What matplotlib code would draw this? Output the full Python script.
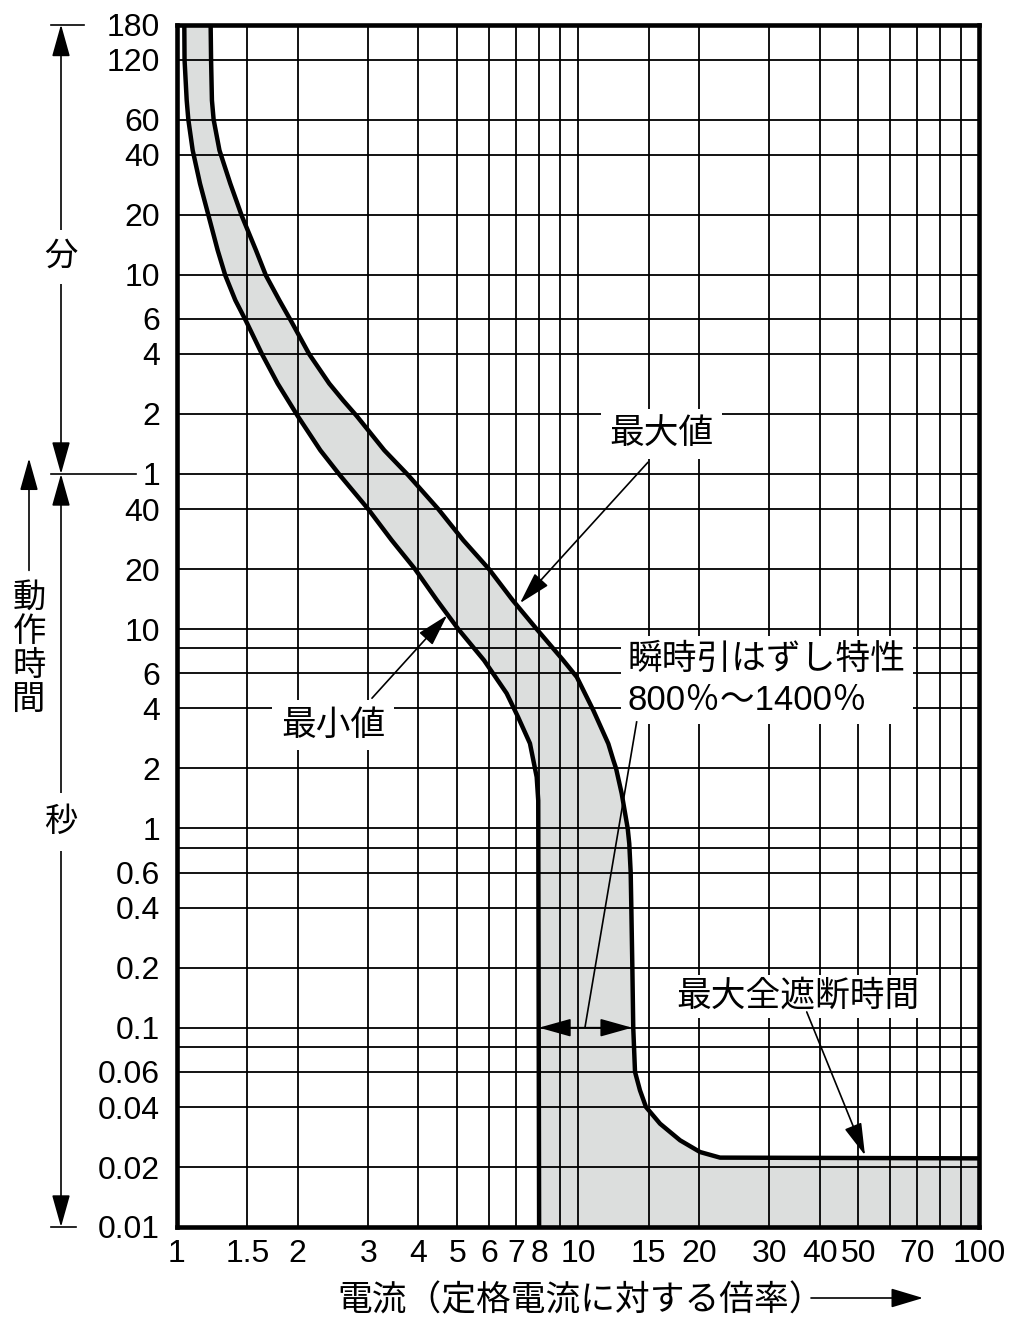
import matplotlib
matplotlib.use('Agg')
import matplotlib.pyplot as plt
import matplotlib.transforms as mtransforms
from matplotlib.lines import Line2D
from matplotlib.patches import FancyArrowPatch
from matplotlib.ticker import NullFormatter

plt.rcParams['font.family'] = ['Liberation Sans', 'Noto Sans CJK JP', 'DejaVu Sans']

# trip curves: current multiple / trip time in seconds
min_i = [1.0446, 1.046, 1.059, 1.069, 1.096, 1.143, 1.2015, 1.265, 1.322, 1.400,
         1.488, 1.632, 1.785, 2.002, 2.28, 2.552, 3.0, 3.434, 3.925, 4.452,
         5.03, 5.833, 6.64, 7.09, 7.59, 7.89, 7.96, 8.0]
min_t = [10800, 7200, 4501, 3600, 2526, 1719, 1178, 795.5, 593.8, 446.4,
         351.6, 239.2, 170.5, 117.3, 78.9, 59.1, 40, 27.9, 20, 13.95,
         10, 6.97, 4.76, 3.62, 2.67, 1.81, 1.38, 0.01]
max_i = [1.215, 1.218, 1.224, 1.236, 1.278, 1.360, 1.454, 1.576, 1.669,
         1.802, 1.927, 2.140, 2.400, 2.597, 2.809, 3.291, 3.777, 4.486, 5.178,
         6.0, 6.876, 7.889, 9.19, 9.93, 10.92, 11.90, 12.25, 12.44, 12.85,
         13.30, 13.42, 13.53, 13.58, 13.66, 13.73, 13.87, 14.27, 14.77, 16.01,
         17.96, 20.14, 22.59, 100]
max_t = [10800, 7200, 4501, 3600, 2526, 1719, 1178, 795.5, 593.8,
         446.4, 351.6, 239.2, 170.5, 140.6, 117.3, 78.9, 59.1, 40, 27.9,
         20, 13.95, 10, 6.97, 5.75, 3.91, 2.66, 2.197, 2.0, 1.495,
         1.0, 0.839, 0.6, 0.4, 0.2, 0.1, 0.06, 0.0485, 0.04, 0.033,
         0.02723, 0.02378, 0.02229, 0.0221]

x_ticks = [1, 1.5, 2, 3, 4, 5, 6, 7, 8, 10, 15, 20, 30, 40, 50, 70, 100]
x_labels = ['1', '1.5', '2', '3', '4', '5', '6', '7', '8', '10', '15', '20',
            '30', '40', '50', '70', '100']
x_minor = [9, 60, 80, 90]
y_ticks = [0.01, 0.02, 0.04, 0.06, 0.1, 0.2, 0.4, 0.6, 1, 2, 4, 6, 10, 20, 40,
           60, 120, 240, 360, 600, 1200, 2400, 3600, 7200, 10800]
y_labels = ['0.01', '0.02', '0.04', '0.06', '0.1', '0.2', '0.4', '0.6', '1',
            '2', '4', '6', '10', '20', '40',
            '1', '2', '4', '6', '10', '20', '40', '60', '120', '180']
y_minor = [0.08, 0.8, 8]

W, H = 1024, 1344
fig = plt.figure(figsize=(W / 100, H / 100), dpi=100)
ax = fig.add_axes([176.7 / W, 117 / H, 802.6 / W, 1202.5 / H])
ax.set_xscale('log')
ax.set_yscale('log')

# shaded band between min and max curves
fill_x = min_i + [100] + max_i[::-1]
fill_y = min_t + [0.01] + max_t[::-1]
ax.fill(fill_x, fill_y, color='#dcdedd', lw=0, zorder=1)

ax.plot(min_i, min_t, color='black', lw=3.2, zorder=3, solid_joinstyle='round')
ax.plot(max_i, max_t, color='black', lw=3.2, zorder=3, solid_joinstyle='round')

ax.set_xlim(1, 100)
ax.set_ylim(0.01, 10800)
ax.set_xticks(x_ticks, x_labels)
ax.set_xticks(x_minor, minor=True)
ax.set_yticks(y_ticks, y_labels)
ax.set_yticks(y_minor, minor=True)
ax.xaxis.set_minor_formatter(NullFormatter())
ax.yaxis.set_minor_formatter(NullFormatter())
ax.tick_params(which='both', length=0, labelsize=23)
ax.tick_params(axis='x', pad=9)
ax.tick_params(axis='y', pad=12)
ax.grid(which='both', color='black', lw=1.3, zorder=2)
ax.set_axisbelow(False)
for sp in ax.spines.values():
    sp.set_linewidth(3.3)
    sp.set_zorder(5)

jp = 25
box = dict(boxstyle='square,pad=0.25', fc='white', ec='none')
arrow = dict(arrowstyle='-|>,head_length=1.0,head_width=0.28', color='black',
             lw=1.2, shrinkA=0, shrinkB=0, mutation_scale=20)

ax.text(16.15, 94.9, '最大値', fontsize=jp, ha='center', va='center', bbox=box, zorder=6)
ax.annotate('', xy=(7.17, 13.5), xytext=(14.94, 68.7), arrowprops=arrow, zorder=6)

ax.text(2.452, 3.29, '最小値', fontsize=jp, ha='center', va='center', bbox=box, zorder=6)
ax.annotate('', xy=(4.72, 11.73), xytext=(3.066, 4.50), arrowprops=arrow, zorder=6)

ax.text(13.3, 5.55, '瞬時引はずし特性\n800％～1400％', fontsize=jp, ha='left',
        va='center', linespacing=1.3, bbox=dict(boxstyle='square,pad=0.2', fc='white', ec='none'),
        zorder=6)
ax.plot([14.0, 10.41], [3.42, 0.1005], color='black', lw=1.2, zorder=6)
ax.annotate('', xy=(7.995, 0.1), xytext=(13.64, 0.1),
            arrowprops=dict(arrowstyle='<|-|>,head_length=1.0,head_width=0.28', color='black',
                            lw=1.2, shrinkA=0, shrinkB=0, mutation_scale=20), zorder=6)

ax.text(35.4, 0.1437, '最大全遮断時間', fontsize=jp, ha='center', va='center',
        bbox=dict(boxstyle='square,pad=0.15', fc='white', ec='none'), zorder=6)
ax.annotate('', xy=(51.9, 0.0229), xytext=(37.15, 0.12), arrowprops=arrow, zorder=6)

# left side: minute / second ranges
trans = mtransforms.blended_transform_factory(fig.transFigure, ax.transData)
xa = 61 / W
dim = dict(arrowstyle='<|-|>,head_length=1.0,head_width=0.28', color='black',
           lw=1.2, shrinkA=0, shrinkB=0, mutation_scale=20)
fig.add_artist(FancyArrowPatch((xa, 10800), (xa, 60), transform=trans, **dim))
fig.add_artist(FancyArrowPatch((xa, 60), (xa, 0.01), transform=trans, **dim))
fig.add_artist(Line2D([51 / W, 84 / W], [10800, 10800], transform=trans, color='black', lw=1.2))
fig.add_artist(Line2D([51 / W, 136 / W], [60, 60], transform=trans, color='black', lw=1.2))
fig.add_artist(Line2D([51 / W, 76 / W], [0.01, 0.01], transform=trans, color='black', lw=1.2))
fig.text(xa, 734, '分', transform=trans, fontsize=24, ha='center', va='center',
         bbox=dict(boxstyle='square,pad=0.35', fc='white', ec='none'))
fig.text(xa, 1.073, '秒', transform=trans, fontsize=24, ha='center', va='center',
         bbox=dict(boxstyle='square,pad=0.4', fc='white', ec='none'))
fig.add_artist(FancyArrowPatch((29 / W, 19.7), (29 / W, 71.9), transform=trans,
                               arrowstyle='-|>,head_length=1.0,head_width=0.28',
                               color='black', lw=1.2, shrinkA=0, shrinkB=0, mutation_scale=20))
for k, ch in enumerate('動作時間'):
    fig.text(29 / W, 1 - (598 + 34 * k) / H, ch, fontsize=24, ha='center', va='center')

# x axis title with arrow
fig.text(337 / W, 1 - 1301 / H, '電流（定格電流に対する倍率）', fontsize=jp, ha='left', va='center')
fig.add_artist(FancyArrowPatch((811 / W, 1 - 1298 / H), (923 / W, 1 - 1298 / H),
                               transform=fig.transFigure,
                               arrowstyle='-|>,head_length=1.0,head_width=0.3',
                               color='black', lw=1.2, shrinkA=0, shrinkB=0, mutation_scale=20))

fig.savefig('out.png', dpi=100)
